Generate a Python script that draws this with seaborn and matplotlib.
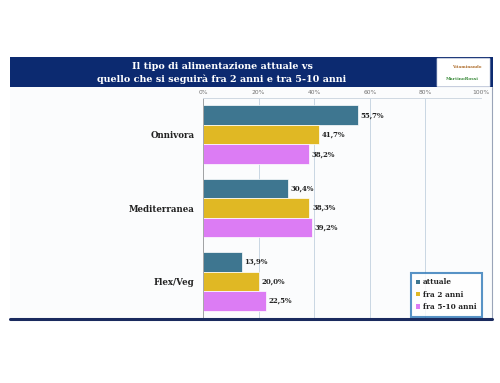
import matplotlib
matplotlib.use("Agg")
import matplotlib.pyplot as plt
from matplotlib.patches import Rectangle, FancyBboxPatch
from matplotlib.lines import Line2D
import seaborn as sns
import pandas as pd

categories = ["Onnivora", "Mediterranea", "Flex/Veg"]
series = ["attuale", "fra 2 anni", "fra 5-10 anni"]
attuale = [55.7, 30.4, 13.9]
fra_2 = [41.7, 38.3, 20.0]
fra_5_10 = [38.2, 39.2, 22.5]
tick_labels = ["0%", "20%", "40%", "60%", "80%", "100%"]
title = "Il tipo di alimentazione attuale vs\nquello che si seguirà fra 2 anni e tra 5-10 anni"

colors = ["#3e7690", "#e0b824", "#dc7cf4"]

rows = []
for s, vals in zip(series, [attuale, fra_2, fra_5_10]):
    for c, v in zip(categories, vals):
        rows.append({"cat": c, "serie": s, "val": v})
df = pd.DataFrame(rows)

sns.set_theme(style="white")
plt.rcParams['font.family'] = ['DejaVu Serif']

fig = plt.figure(figsize=(5, 3.83), dpi=100)
fig.patch.set_facecolor("white")

W, H = 500, 383
def fx(x): return x / W
def fy(y): return 1 - y / H

# panel background
fig.patches.append(Rectangle((fx(10), fy(319)), fx(492) - fx(10), fy(87) - fy(319),
                             transform=fig.transFigure, facecolor="#fbfcfd",
                             edgecolor="none", zorder=-2))
# title band
fig.patches.append(Rectangle((fx(10), fy(87)), fx(493) - fx(10), fy(57) - fy(87),
                             transform=fig.transFigure, facecolor="#0c2a70",
                             edgecolor="none", zorder=1))
# logo box
fig.patches.append(FancyBboxPatch((fx(438), fy(86)), fx(489) - fx(438), fy(59) - fy(86),
                                  boxstyle="round,pad=0.002", transform=fig.transFigure,
                                  facecolor="white", edgecolor="#c8d0e0", lw=0.5, zorder=2))
fig.text(fx(467), fy(67), "Vitaminando", fontsize=3, color="#b07030", ha="center", va="center",
         fontweight="bold", zorder=3)
fig.text(fx(462), fy(79), "MartinoRossi", fontsize=3.2, color="#3a8a3a", ha="center", va="center",
         fontweight="bold", zorder=3)
# right border and bottom line
fig.lines.append(Line2D([fx(492), fx(492)], [fy(87), fy(319)], transform=fig.transFigure,
                        color="#9aa4b8", lw=0.8, zorder=2))
fig.lines.append(Line2D([fx(10), fx(492)], [fy(319), fy(319)], transform=fig.transFigure,
                        color="#1a2a5e", lw=2.2, zorder=6))

fig.text(fx(222), fy(73), title, color="white", fontsize=6.9, fontweight="bold",
         ha="center", va="center", linespacing=1.35, zorder=3)

ax = fig.add_axes([fx(203), fy(318), fx(481) - fx(203), fy(98) - fy(318)])
ax.set_zorder(5)
ax.set_facecolor("none")
sns.barplot(data=df, y="cat", x="val", hue="serie", orient="h", palette=colors,
            order=categories, hue_order=series, width=0.8, ax=ax, saturation=1,
            edgecolor="white", linewidth=0.5, legend=True)

ax.set_xlim(0, 100)
ax.set_ylim(2.5, -0.5)
ax.set_xticks([0, 20, 40, 60, 80, 100])
ax.set_xticklabels(tick_labels, fontsize=4.3, color="#707070", family="DejaVu Sans")
ax.xaxis.tick_top()
ax.tick_params(axis="x", length=0, pad=2)
ax.set_xlabel("")
ax.set_ylabel("")
ax.set_yticks(range(len(categories)))
ax.set_yticklabels(categories, fontsize=6.2, fontweight="bold", color="#222222")
ax.tick_params(axis="y", length=0, pad=6)
ax.set_yticks([0.5, 1.5], minor=True)
ax.tick_params(axis="y", which="minor", length=3, color="#999999", width=0.6)
ax.grid(axis="x", color="#c9d6e3", lw=0.7)
ax.set_axisbelow(True)
for s in ["right", "bottom"]:
    ax.spines[s].set_visible(False)
ax.spines["left"].set_color("#9a9a9a")
ax.spines["left"].set_linewidth(0.6)
ax.spines["top"].set_color("#cfd8e2")
ax.spines["top"].set_linewidth(0.7)

for cont in ax.containers:
    ax.bar_label(cont, labels=[f"{v:.1f}%".replace(".", ",") for v in cont.datavalues],
                 padding=2, fontsize=5, fontweight="bold", color="#222222")

leg = ax.legend(loc="lower right", bbox_to_anchor=(1.004, 0.006), fontsize=5.3,
                frameon=True, handlelength=0.55, handleheight=0.55, handletextpad=0.35,
                labelspacing=0.6, borderpad=0.75, borderaxespad=0, fancybox=False)
for t in leg.get_texts():
    t.set_fontweight("bold")
    t.set_color("#222222")
for h in leg.legend_handles:
    h.set_edgecolor("none")
leg.get_frame().set_edgecolor("#2e78b8")
leg.get_frame().set_linewidth(1.5)
leg.get_frame().set_facecolor("white")

fig.savefig("out.png", dpi=100, facecolor="white")
